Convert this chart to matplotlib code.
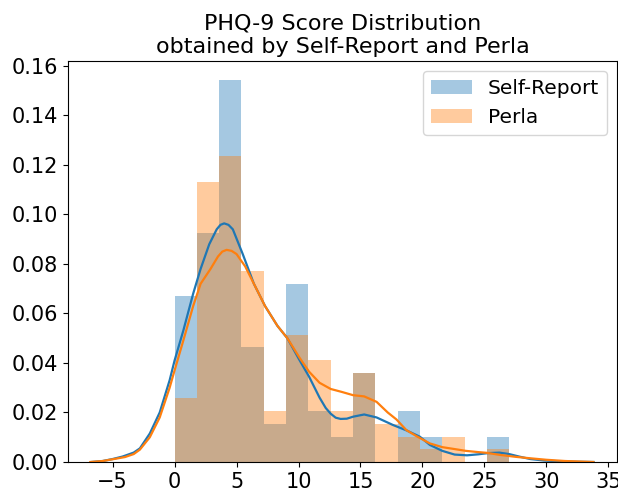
import numpy as np
import matplotlib
matplotlib.use("Agg")
import matplotlib.pyplot as plt

# Histogram bin edges (shared by both series)
bin_edges = [0.0, 1.8, 3.6, 5.4, 7.2, 9.0, 10.8, 12.6, 14.4, 16.2, 18.0, 19.8, 21.6, 23.4, 25.2, 27.0]

# Density heights per bin
self_report_hist = [0.0669, 0.0926, 0.1543, 0.0463, 0.0154, 0.0720, 0.0206, 0.0103,
                    0.0360, 0.0, 0.0206, 0.0103, 0.0, 0.0, 0.0103]
perla_hist = [0.0257, 0.1132, 0.1235, 0.0772, 0.0206, 0.0514, 0.0412, 0.0206,
              0.0360, 0.0154, 0.0103, 0.0051, 0.0103, 0.0, 0.0051]

# KDE curves
self_report_kde_x = [-6.7, -5.8, -5.0, -4.2, -3.3, -2.8, -2.0, -1.2, -0.4, 0.0, 0.7, 1.5, 2.1,
                     2.8, 3.4, 3.7, 4.0, 4.35, 4.7, 5.5, 6.4, 7.3, 8.3, 9.1, 10.1, 10.85, 11.7,
                     12.2, 12.6, 13.0, 13.4, 13.9, 14.4, 15.3, 16.3, 17.6, 18.7, 19.8, 20.6,
                     21.6, 22.6, 23.6, 24.5, 25.3, 26.2, 27.0, 27.8, 28.7, 29.8, 31.0, 32.5,
                     33.8]
self_report_kde_y = [0.0, 0.0004, 0.0012, 0.0022, 0.0038, 0.0055, 0.0115, 0.020, 0.033, 0.041,
                     0.053, 0.068, 0.078, 0.088, 0.094, 0.0958, 0.0964, 0.0958, 0.094, 0.084,
                     0.072, 0.063, 0.055, 0.050, 0.041, 0.0345, 0.026, 0.0218, 0.0195, 0.0179,
                     0.0174, 0.0175, 0.0183, 0.0192, 0.018, 0.015, 0.0128, 0.0102, 0.0069,
                     0.0045, 0.003, 0.0027, 0.0031, 0.0036, 0.0038, 0.0032, 0.0022, 0.0012,
                     0.0006, 0.0003, 0.0001, 0.0]

perla_kde_x = [-6.8, -5.8, -5.0, -4.0, -3.3, -2.8, -2.0, -1.2, -0.4, 0.0, 0.7, 1.5, 2.1, 2.9,
               3.5, 3.85, 4.2, 4.6, 5.0, 5.7, 6.5, 7.3, 8.3, 9.1, 10.1, 10.85, 11.7, 12.6, 13.5,
               14.4, 15.3, 16.3, 17.2, 17.9, 18.7, 19.5, 20.6, 21.6, 22.5, 23.5, 24.5, 25.2,
               26.2, 27.5, 28.7, 30.0, 31.5, 33.8]
perla_kde_y = [0.0, 0.0004, 0.0011, 0.002, 0.0032, 0.005, 0.010, 0.018, 0.030, 0.037, 0.049,
               0.063, 0.072, 0.078, 0.083, 0.085, 0.0857, 0.0853, 0.084, 0.079, 0.071, 0.063,
               0.055, 0.050, 0.042, 0.0365, 0.032, 0.0295, 0.0283, 0.027, 0.0265, 0.0243,
               0.020, 0.0172, 0.0129, 0.0105, 0.0075, 0.006, 0.0053, 0.0045, 0.004, 0.0037,
               0.0029, 0.0021, 0.0015, 0.0009, 0.0004, 0.0]

labels = ["Self-Report", "Perla"]
title = "PHQ-9 Score Distribution\nobtained by Self-Report and Perla"

fig = plt.figure(figsize=(6.18, 4.93), dpi=100)
ax = fig.add_axes([68 / 618, 1 - 462 / 493, (617 - 68) / 618, (462 - 61) / 493])

edges = np.array(bin_edges)
widths = np.diff(edges)
c_blue = "#1f77b4"
c_orange = "#ff7f0e"

ax.bar(edges[:-1], self_report_hist, width=widths, align="edge", color=c_blue, alpha=0.4,
       linewidth=0, label=labels[0])
ax.plot(self_report_kde_x, self_report_kde_y, color=c_blue, lw=1.6, solid_joinstyle="round")
ax.bar(edges[:-1], perla_hist, width=widths, align="edge", color=c_orange, alpha=0.4,
       linewidth=0, label=labels[1])
ax.plot(perla_kde_x, perla_kde_y, color=c_orange, lw=1.6, solid_joinstyle="round")

ax.set_xlim(-8.6, 35.7)
ax.set_ylim(0, 0.162)
ax.set_xticks([-5, 0, 5, 10, 15, 20, 25, 30, 35])
ax.set_yticks([0.0, 0.02, 0.04, 0.06, 0.08, 0.10, 0.12, 0.14, 0.16])
ax.yaxis.set_major_formatter(matplotlib.ticker.FormatStrFormatter("%.2f"))
ax.tick_params(labelsize=15)
ax.set_title(title, fontsize=16, pad=6)
ax.legend(loc="upper right", fontsize=14.5)

fig.savefig("out.png", dpi=100)
